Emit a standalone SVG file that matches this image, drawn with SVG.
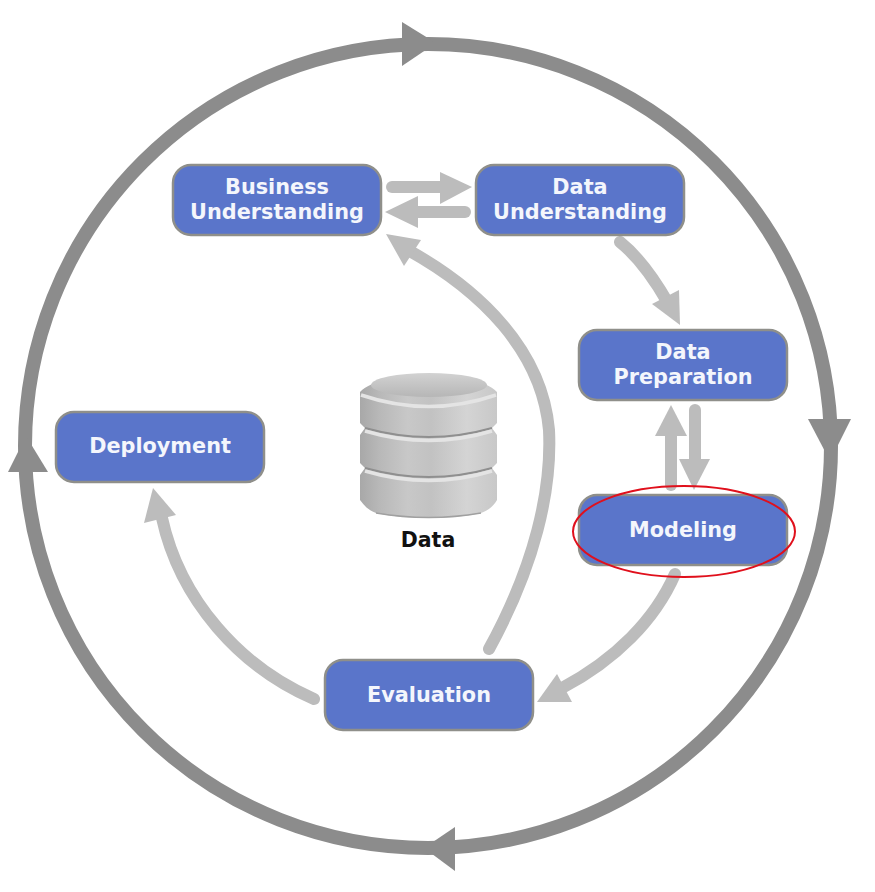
<svg xmlns="http://www.w3.org/2000/svg" width="875" height="892" viewBox="0 0 875 892">
<style>
.ring{fill:none;stroke:#8c8c8c;stroke-width:14}
.rh{fill:#8c8c8c}
.l{fill:none;stroke:#bcbcbc;stroke-width:12;stroke-linecap:round}
.h{fill:#bcbcbc}
.box{fill:#5a75ca;stroke:#8f8f8a;stroke-width:2.5}
.t{font-family:"DejaVu Sans",Verdana,sans-serif;font-weight:700;font-size:20.8px;fill:#f4f6fc;text-anchor:middle}
.dk{fill:none;stroke:#8f8f8f;stroke-width:2}
.lt{fill:none;stroke:#e4e4e4;stroke-width:3.5}
</style>
<defs>
<linearGradient id="cyl" x1="0" x2="1" y1="0" y2="0">
<stop offset="0" stop-color="#a8a8a8"/><stop offset=".14" stop-color="#b8b8b8"/><stop offset=".35" stop-color="#c8c8c8"/><stop offset=".52" stop-color="#c2c2c2"/><stop offset=".78" stop-color="#d4d4d4"/><stop offset="1" stop-color="#c8c8c8"/>
</linearGradient>
<linearGradient id="disc" x1="0" x2="0" y1="0" y2="1">
<stop offset="0" stop-color="#d2d2d2"/><stop offset="1" stop-color="#b6b6b6"/>
</linearGradient>
<filter id="soft" x="-5%" y="-5%" width="110%" height="110%"><feGaussianBlur stdDeviation="0.6"/></filter>
</defs>
<rect width="875" height="892" fill="#fff"/>
<g id="connectors">
<ellipse class="ring" cx="428" cy="446" rx="403" ry="402"/>
<polygon class="rh" points="402,22 436,43 402,66"/>
<polygon class="rh" points="808,419 851,419 830,461"/>
<polygon class="rh" points="455,827 455,871 424,848"/>
<polygon class="rh" points="8,472 48,472 26,436"/>
<line class="l" x1="392" y1="187" x2="440" y2="187"/><polygon class="h" points="440,172 472,187 440,204"/>
<line class="l" x1="465" y1="212" x2="415" y2="212"/><polygon class="h" points="418,196 385,212 418,228"/>
<path class="l" d="M620 242C640 258 656 282 668 303"/><polygon class="h" points="652,304 680,325 679,290"/>
<line class="l" x1="671" y1="485" x2="671" y2="430"/><polygon class="h" points="655,436 671,405 687,436"/>
<line class="l" x1="695" y1="410" x2="695" y2="465"/><polygon class="h" points="679,459 710,459 694,490"/>
<path class="l" d="M675 574C655 620 615 660 562 688"/><polygon class="h" points="557,674 537,702 572,702"/>
<path class="l" d="M489 649C535 565 552 490 549 430C542 350 480 290 408 250"/><polygon class="h" points="386,234 421,240 404,266"/>
<path class="l" d="M314 699C240 667 180 600 162 518"/><polygon class="h" points="153,488 176,515 144,523"/>
</g>
<g id="business-understanding"><rect class="box" x="173" y="165" width="208" height="70" rx="18"/><text class="t" x="277" y="194">Business</text><text class="t" x="277" y="219">Understanding</text></g>
<g id="data-understanding"><rect class="box" x="476" y="165" width="208" height="70" rx="18"/><text class="t" x="580" y="194">Data</text><text class="t" x="580" y="219">Understanding</text></g>
<g id="data-preparation"><rect class="box" x="579" y="330" width="208" height="70" rx="18"/><text class="t" x="683" y="359">Data</text><text class="t" x="683" y="384">Preparation</text></g>
<g id="modeling"><rect class="box" x="579" y="495" width="208" height="70" rx="18"/><text class="t" x="683" y="537">Modeling</text></g>
<g id="deployment"><rect class="box" x="56" y="412" width="208" height="70" rx="18"/><text class="t" x="160" y="453">Deployment</text></g>
<g id="evaluation"><rect class="box" x="325" y="660" width="208" height="70" rx="18"/><text class="t" x="429" y="702">Evaluation</text></g>
<g id="data">
<g filter="url(#soft)">
<path d="M360 392C372 380 400 375 429 375C458 375 485 380 497 392V423L492 428L497 435V463L492 468L497 475V500C492 508 487 511 481 513Q460 518 429 518Q398 518 376 513C370 511 365 507 360 500V475L365 468L360 463V435L365 428L360 423Z" fill="url(#cyl)"/>
<ellipse cx="429" cy="385" rx="58" ry="12" fill="url(#disc)"/>
<path class="lt" d="M361 395Q429 418 496 395"/>
<path class="dk" d="M365 428Q429 446 492 428M365 468Q429 486 492 468"/>
<path class="lt" d="M365 431Q429 450 492 431M365 471Q429 490 492 471"/>
<path d="M376 513Q429 522 481 513" fill="none" stroke="#a0a0a0" stroke-width="1.5"/>
</g>
<text x="428" y="547" font-family="DejaVu Sans, Verdana, sans-serif" font-weight="700" font-size="20.5" fill="#111" text-anchor="middle">Data</text>
</g>
<ellipse id="highlight" cx="684" cy="531.5" rx="111" ry="45.5" fill="none" stroke="#e0101c" stroke-width="2"/>
</svg>
